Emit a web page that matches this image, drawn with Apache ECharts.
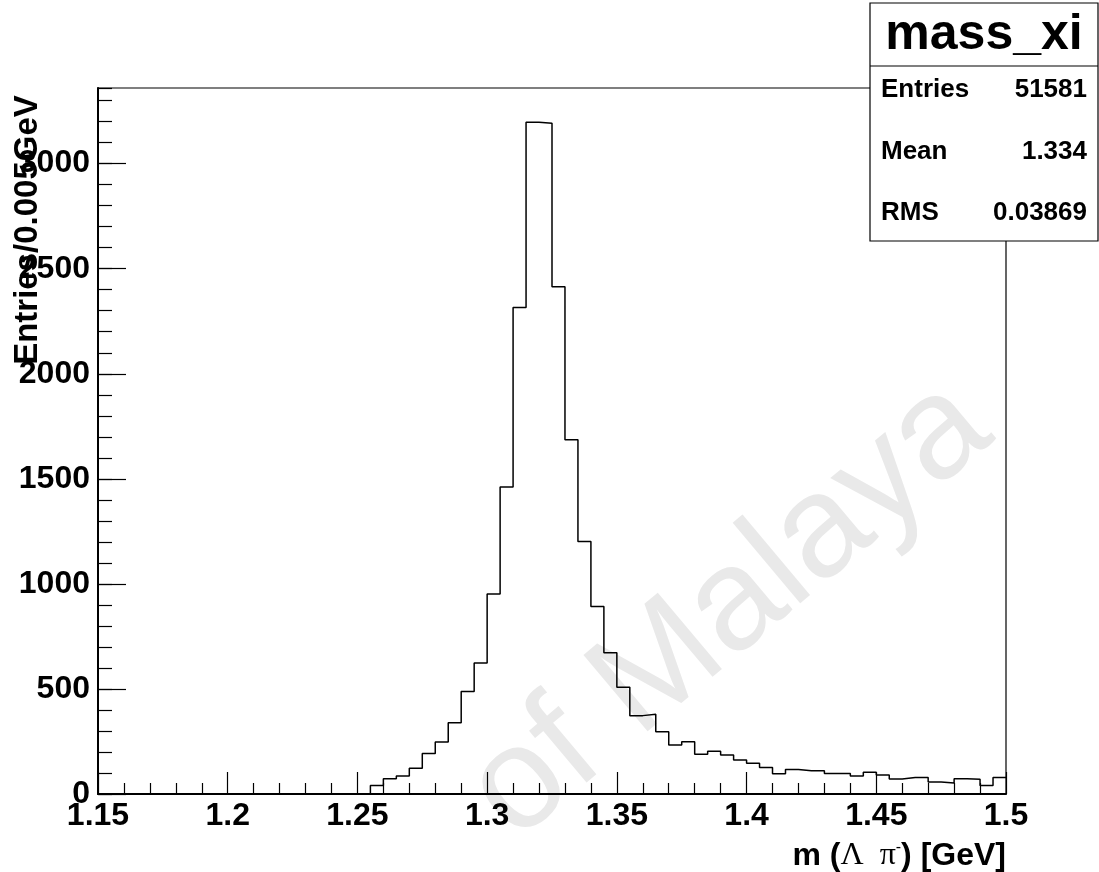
<!DOCTYPE html>
<html>
<head>
<meta charset="utf-8">
<script src="https://cdn.jsdelivr.net/npm/echarts@6/dist/echarts.min.js"></script>
<style>
  html, body { margin: 0; padding: 0; background: #fff; }
  #graphBar { width: 1099px; height: 872px; }
</style>
</head>
<body>
<div id="graphBar"></div>
<script>
// histogram mass_xi, 70 bins of 0.005 GeV from 1.15 to 1.5
var binLow = 1.15;
var binWidth = 0.005;
var counts = [
    0, 0, 0, 0, 0, 0, 0, 0, 0, 0,
    0, 0, 0, 0, 0, 0, 0, 0, 0, 0,
    0, 41, 73, 86, 123, 193, 247, 339, 488, 624,
    952, 1461, 2315, 3197, 3192, 2414, 1686, 1202, 892, 672,
    508, 373, 379, 296, 233, 249, 189, 203, 186, 162,
    146, 126, 96, 117, 111, 111, 98, 97, 86, 103,
    90, 71, 78, 78, 57, 52, 73, 70, 41, 78
];
var xTicks = [1.15, 1.2, 1.25, 1.3, 1.35, 1.4, 1.45, 1.5];
var yTicks = [0, 500, 1000, 1500, 2000, 2500, 3000];
var statNames = ['Entries', 'Mean', 'RMS'];
var statValues = ['51581', '1.334', '0.03869'];

var histData = [];
for (var i = 0; i < counts.length; i++) {
    histData.push([+(binLow + i * binWidth).toFixed(3), counts[i]]);
}
histData.push([+(binLow + counts.length * binWidth).toFixed(3), counts[counts.length - 1]]);

var font = 'Liberation Sans, Arial, sans-serif';
var dom = document.getElementById('graphBar');
var myChart = echarts.init(dom);

// stats box
var statBox = [
    { type: 'rect', shape: { x: 870, y: 3, width: 228, height: 238 },
      style: { fill: '#fff', stroke: '#000', lineWidth: 1.2 }, z: 10 },
    { type: 'line', shape: { x1: 870, y1: 66, x2: 1098, y2: 66 },
      style: { stroke: '#000', lineWidth: 1.2 }, z: 11 },
    { type: 'text', x: 984, y: 35, z: 11,
      style: { text: 'mass_xi', font: 'bold 50px ' + font, fill: '#000', align: 'center', verticalAlign: 'middle' } }
];
var rowY = [90, 152, 213];
for (var k = 0; k < statNames.length; k++) {
    statBox.push({ type: 'text', x: 881, y: rowY[k], z: 11,
        style: { text: statNames[k], font: 'bold 26px ' + font, fill: '#000', align: 'left', verticalAlign: 'middle' } });
    statBox.push({ type: 'text', x: 1087, y: rowY[k], z: 11,
        style: { text: statValues[k], font: 'bold 26px ' + font, fill: '#000', align: 'right', verticalAlign: 'middle' } });
}

var option = {
    animation: false,
    backgroundColor: '#fff',
    grid: {
        left: 98, right: 93, top: 88, bottom: 78,
        show: true, borderColor: '#000', borderWidth: 1.2, backgroundColor: 'transparent'
    },
    xAxis: {
        type: 'value',
        min: xTicks[0],
        max: xTicks[xTicks.length - 1],
        interval: 0.05,
        axisLine: { show: true, onZero: false, lineStyle: { color: '#000', width: 2 } },
        axisTick: { show: true, inside: true, length: 22, lineStyle: { color: '#000', width: 1.2 } },
        minorTick: { show: true, splitNumber: 5, length: 11, lineStyle: { color: '#000', width: 1.2 } },
        splitLine: { show: false },
        axisLabel: {
            color: '#000', fontFamily: font, fontWeight: 'bold', fontSize: 32, margin: 6,
            formatter: function (v) { return String(+v.toFixed(2)); }
        }
    },
    yAxis: [{
        type: 'value',
        min: 0,
        max: 3360,
        interval: 500,
        axisLine: { show: true, lineStyle: { color: '#000', width: 2 } },
        axisTick: { show: true, inside: true, length: 28, lineStyle: { color: '#000', width: 1.2 } },
        splitLine: { show: false },
        axisLabel: {
            color: '#000', fontFamily: font, fontWeight: 'bold', fontSize: 32, margin: 8,
            showMaxLabel: false,
            formatter: function (v) { return yTicks.indexOf(v) >= 0 ? String(v) : ''; }
        }
    }, {
        // minor ticks every 100
        type: 'value',
        position: 'left',
        min: 0,
        max: 3360,
        interval: 100,
        axisLine: { show: false },
        axisTick: { show: true, inside: true, length: 14, lineStyle: { color: '#000', width: 1.2 } },
        splitLine: { show: false },
        axisLabel: { show: false }
    }],
    graphic: [
        { type: 'text', x: 730, y: 610, rotation: 40 * Math.PI / 180, z: -1, silent: true,
          style: { text: 'of Malaya', font: '145px ' + font, fill: '#e9e9e9', align: 'center', verticalAlign: 'middle' } },
        { type: 'text', x: 28, y: 230, rotation: Math.PI / 2,
          style: { text: 'Entries/0.005GeV', font: 'bold 33px ' + font, fill: '#000', align: 'center', verticalAlign: 'middle' } },
        { type: 'text', x: 1006, y: 856,
          style: {
              text: '{b|m (}{g|Λ  π}{s|-}{b|) [GeV]}',
              align: 'right', verticalAlign: 'middle',
              rich: {
                  b: { font: 'bold 32px ' + font, fill: '#000' },
                  g: { font: '32px Liberation Serif, Times New Roman, serif', fill: '#000' },
                  s: { font: '16px ' + font, fill: '#000', verticalAlign: 'top', padding: [0, 0, 14, 0] }
              }
          } }
    ].concat(statBox),
    series: [{
        type: 'line',
        step: 'end',
        showSymbol: false,
        symbol: 'none',
        data: histData,
        lineStyle: { color: '#000', width: 1.5 },
        z: 5
    }]
};
myChart.setOption(option, true);
</script>
</body>
</html>
